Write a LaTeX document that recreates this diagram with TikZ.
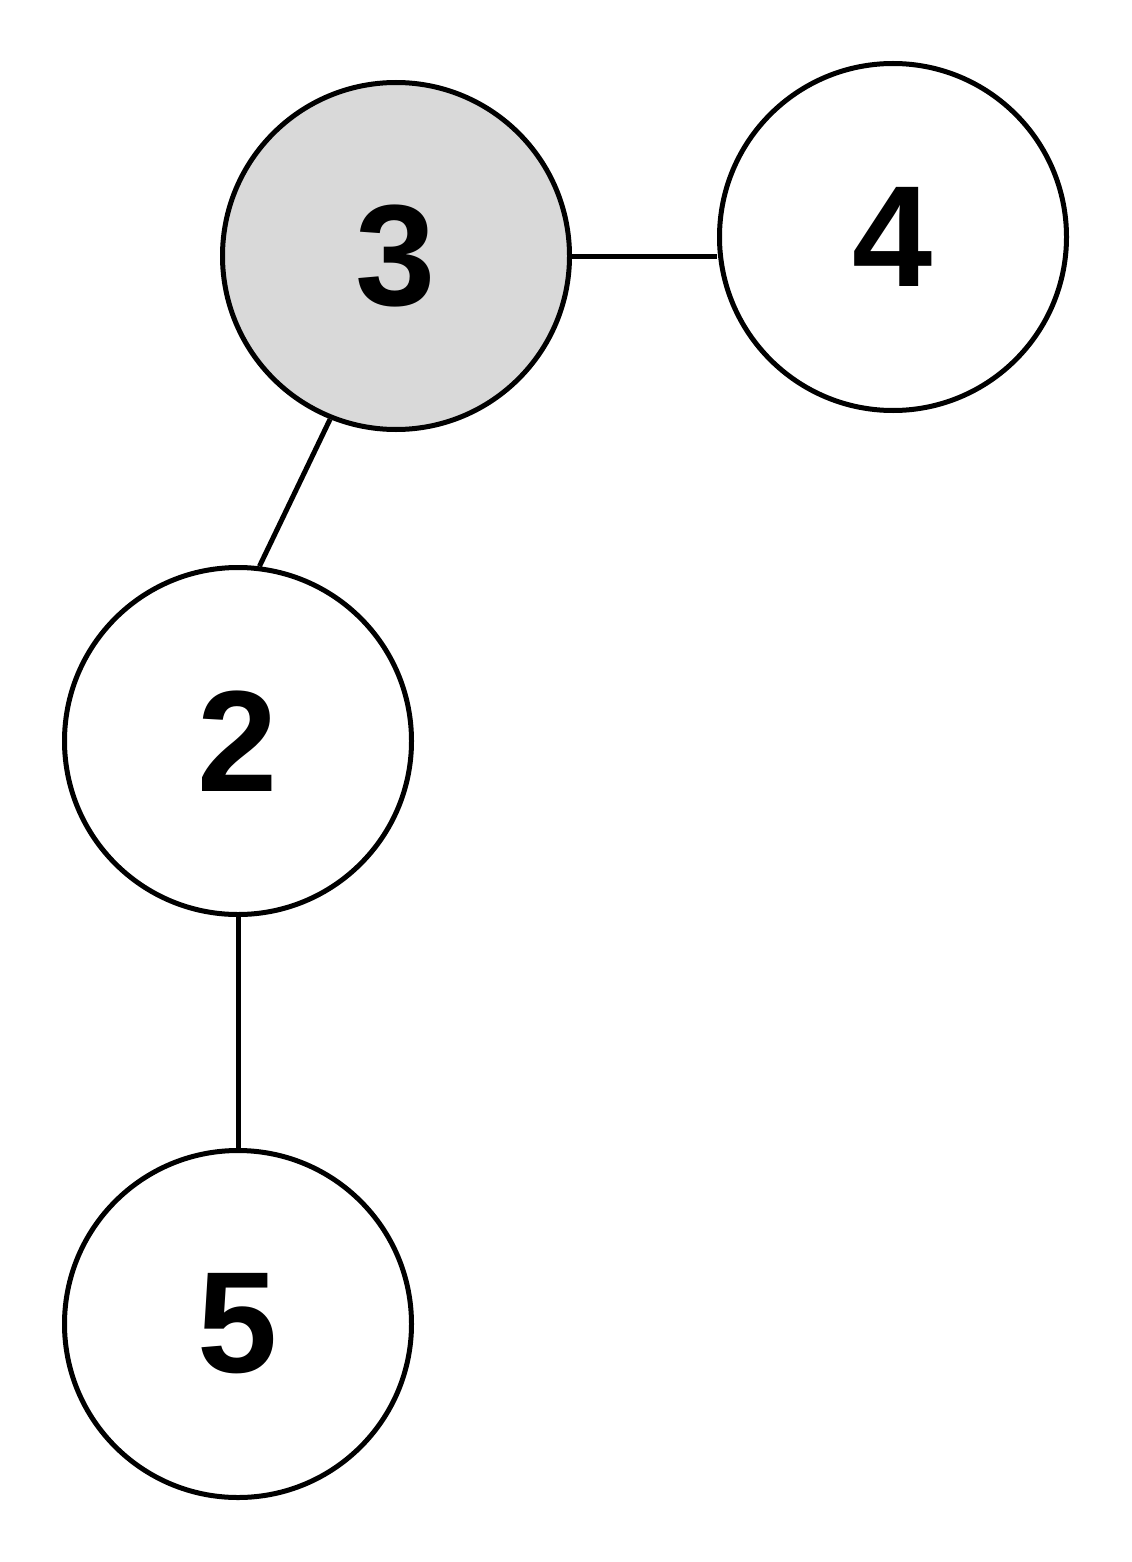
\documentclass[tikz,border=0pt]{standalone}
\usepackage{fontspec}
\setmainfont{Liberation Sans}
\definecolor{visitado}{HTML}{D9D9D9}
\begin{document}
\begin{tikzpicture}[every node/.style={font=\fontsize{41}{41}\selectfont\bfseries},
    vertice/.style={draw, circle, line width=0.05cm, minimum size=3.47cm, inner sep=0pt},
    arista/.style={line width=0.05cm}]

        \useasboundingbox (0,0) rectangle (11.32,-15.62);

        % Vertices
        \node[vertice, fill=visitado] (n3) at (3.96,-2.56) {3};
        \node[vertice] (n4) at (8.93,-2.37) {4};
        \node[vertice] (n2) at (2.38,-7.41) {2};
        \node[vertice] (n5) at (2.38,-13.24) {5};

        % Aristas
        \draw[arista] (n3.east) -- (n3.east -| n4.west);
        \draw[arista] (n3.248) -- (n2.83);
        \draw[arista] (n2.south) -- (n5.north);

    \end{tikzpicture}
\end{document}
